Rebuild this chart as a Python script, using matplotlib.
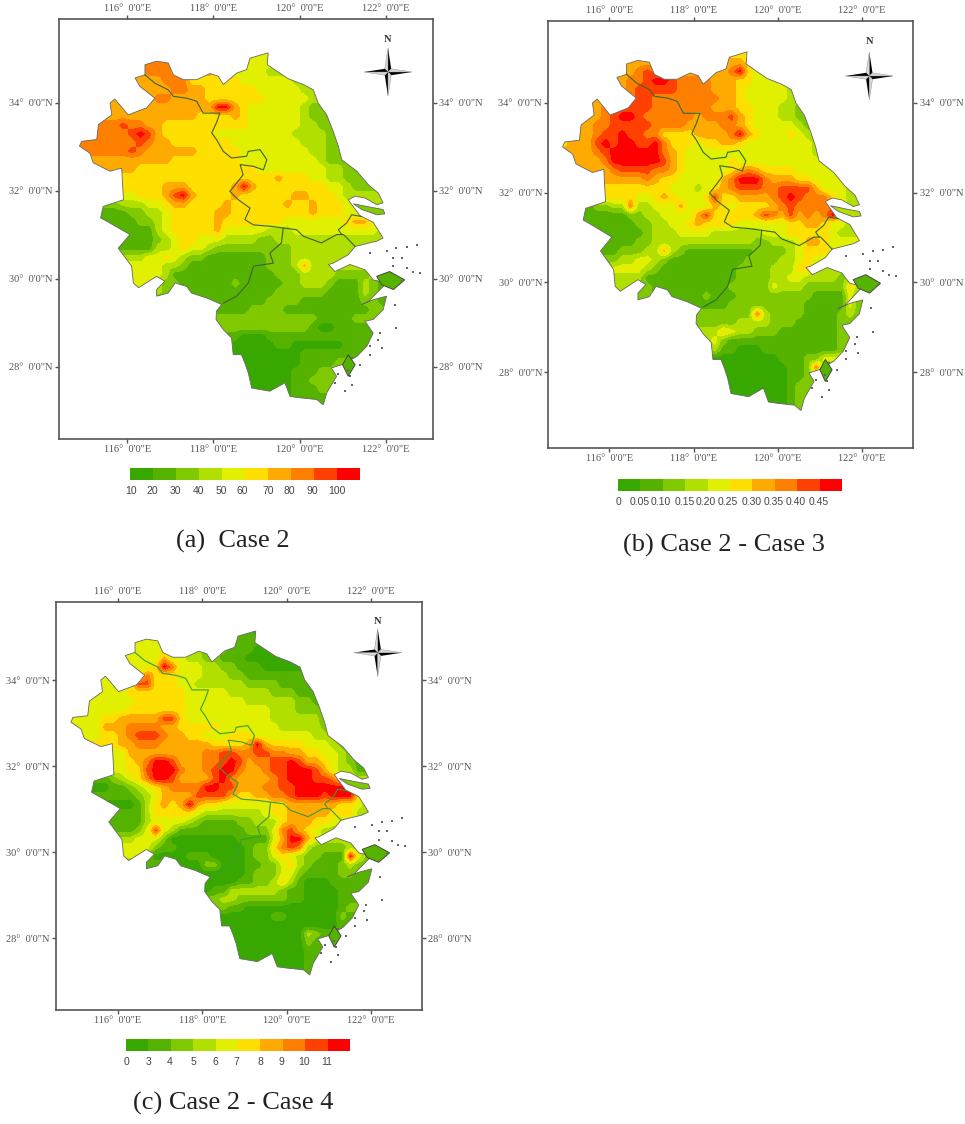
import numpy as np
import matplotlib
matplotlib.use("Agg")
import matplotlib.pyplot as plt
from matplotlib.colors import ListedColormap, BoundaryNorm
from matplotlib.patches import Polygon

W, H = 965, 1124

class_colors = ["#38a800", "#55b300", "#80c800", "#b0df00", "#e0f000",
                "#ffdf00", "#ffaa00", "#ff8000", "#ff4000", "#ff0000"]

lon_ticks = [116, 118, 120, 122]
lat_ticks = [28, 30, 32, 34]

# region outline, lon/lat
outline_lon = [118.85, 119.27, 119.25, 119.48, 119.74, 120.09, 120.32, 120.43, 120.63, 120.78,
               120.90, 120.98, 121.33, 121.60, 121.83, 121.94, 121.79, 121.52, 121.29, 121.13,
               121.40, 121.71, 121.94, 121.79, 121.29, 121.13, 120.78, 120.67, 120.82, 121.17,
               121.52, 121.71, 122.02, 121.79, 121.60, 121.44, 121.71, 122.02, 121.94, 121.71,
               121.52, 121.71, 121.56, 121.33, 120.98, 120.74, 120.86, 120.63, 120.55, 120.40,
               120.01, 119.78, 119.66, 119.31, 118.89, 118.81, 118.73, 118.65, 118.46, 118.42,
               118.23, 118.06, 118.07, 118.19, 117.84, 117.49, 117.38, 117.11, 116.95, 116.68,
               116.68, 116.87, 116.68, 116.26, 116.14, 116.10, 115.79, 116.06, 115.60, 115.38,
               115.44, 115.91, 115.87, 115.60, 115.21, 115.13, 114.89, 114.94, 115.29, 115.33,
               115.64, 115.60, 115.71, 116.02, 116.45, 116.64, 116.29, 116.18, 116.41, 116.41,
               116.68, 116.95, 117.07, 117.30, 117.61, 117.92, 118.11, 118.23, 118.54, 118.77]
outline_lat = [35.02, 35.14, 34.87, 34.72, 34.55, 34.42, 34.30, 34.00, 33.73, 33.36,
               33.02, 32.71, 32.45, 32.14, 31.95, 31.73, 31.69, 31.84, 31.88, 31.80,
               31.44, 31.29, 30.93, 30.86, 30.74, 30.55, 30.36, 30.33, 30.17, 30.33,
               30.21, 29.98, 29.91, 29.68, 29.49, 29.42, 29.53, 29.61, 29.30, 29.08,
               29.04, 28.77, 28.47, 28.24, 28.05, 27.98, 27.79, 27.41, 27.14, 27.26,
               27.30, 27.33, 27.64, 27.45, 27.52, 27.86, 28.09, 28.28, 28.28, 28.66,
               28.85, 29.08, 29.27, 29.42, 29.57, 29.68, 29.83, 29.91, 29.68, 29.61,
               29.76, 29.95, 30.06, 29.80, 29.91, 30.29, 30.70, 31.01, 31.27, 31.39,
               31.65, 31.80, 32.52, 32.45, 32.64, 32.86, 33.02, 33.13, 33.17, 33.51,
               33.73, 34.00, 34.09, 33.73, 33.89, 34.11, 34.38, 34.57, 34.64, 34.87,
               34.95, 34.91, 34.64, 34.53, 34.53, 34.67, 34.61, 34.42, 34.68, 34.76]

# province borders
border_anhui_lon = [116.41, 116.64, 116.95, 117.07, 117.38, 117.61, 117.76, 118.15, 118.07, 117.96,
                    118.07, 118.23, 118.42, 118.77, 118.81, 119.08, 119.24, 119.16, 118.93, 118.62,
                    118.69, 118.54, 118.38, 118.58, 118.85, 118.73, 118.93, 119.31, 119.62, 119.58,
                    119.31, 119.39, 118.93, 118.81, 118.54, 118.23]
border_anhui_lat = [34.64, 34.45, 34.30, 34.15, 34.11, 34.04, 33.77, 33.77, 33.55, 33.32,
                    33.17, 32.90, 32.75, 32.79, 32.90, 32.94, 32.71, 32.48, 32.56, 32.60,
                    32.37, 32.18, 31.99, 31.80, 31.61, 31.35, 31.23, 31.20, 31.16, 30.82,
                    30.59, 30.36, 30.29, 29.91, 29.61, 29.45]
border_zj_lon = [119.62, 119.93, 120.09, 120.51, 120.86, 121.02, 121.29]
border_zj_lat = [31.16, 31.12, 30.97, 30.82, 31.01, 31.01, 30.74]
border_sh_lon = [120.98, 120.90, 121.09, 121.21, 121.44]
border_sh_lat = [31.01, 31.12, 31.27, 31.46, 31.42]

# islands
chongming_lon = [121.25, 121.60, 121.94, 121.98, 121.79, 121.44]
chongming_lat = [31.71, 31.64, 31.58, 31.48, 31.46, 31.58]
zhoushan_lon = [121.79, 122.09, 122.44, 122.18, 121.91]
zhoushan_lat = [30.06, 30.17, 29.98, 29.76, 29.87]
taizhou_lon = [121.13, 121.29, 121.13, 121.00]
taizhou_lat = [28.28, 28.05, 27.79, 28.05]
islet_lon = [121.63, 122.02, 122.25, 122.49, 122.73, 122.18, 122.37, 122.49, 122.18, 122.64, 122.80, 122.37,
             122.22, 122.25, 121.87, 121.83, 121.91, 121.63, 121.63, 121.40, 121.21, 121.13, 121.17,
             120.90, 121.05, 121.21, 120.82]
islet_lat = [30.59, 30.63, 30.70, 30.73, 30.78, 30.48, 30.48, 30.25, 30.29, 30.17, 30.14, 29.95,
             29.42, 28.89, 28.77, 28.62, 28.43, 28.47, 28.28, 28.05, 28.20, 27.94, 27.79,
             27.83, 27.45, 27.60, 27.64]

# class per 0.2 degree cell, north to south, cell centres start at lon 114.9, lat 35.1
# short rows carry on with their last class, spaces are only for reading
grid_lat_top = 35.1
grid_lon_left = 114.9
grid_step = 0.2
n_cols, n_rows = 37, 41

grid_a = [
    "66666666666666 555 4444444 333 2",
    "66666666 777 666 555 4444444 33 2",
    "66666666 777 6 55 66 55 4444 333 2",
    "6666666666 777 555555 444444 333 222",
    "66666666666 77 66 555555 44444 33 22",
    "666666666 77 6666 5555555 44444 33 2211",
    "6666666666666666 99 6 5 444444 3 22 1",
    "66666666666666 5555 6 5 444444 3 22 1",
    "77777877 66 5555555555 444444 33 22 1",
    "777777 898 6 555555 444444444 3333 2",
    "7777777 8 7 66 5555555 44444444 333 22",
    "777777 8 7 666666 55555 44444444 33 22",
    "66666666666 55555555 444444444 3 222",
    "6666666 55555555555555 44444444 33 2",
    "55555555555555555555555 6 555 44 33 2222",
    "5555555555 666 55555 696 55555555 44 3 2222",
    "4444444 555 6 8 9 6 5555 6 555555 66 555 4 3333",
    "22222 33 3 44 5 66 5555 6 555555 6 55 6 555 4 33",
    "111111 22 33 4 55555 66 55 5555555 6 555 44 33",
    "1111111 22 3 4 55555 6 5 555555 4444444 5 66 43",
    "111111111 3 4 55555 6 44444 333 4444444444 33",
    "111111111 2 3 4 55 444 3333 22 33333333333333",
    "111111111 33 4 5 44 3 222222222 333333333333",
    "33333333 44 5 4 3 22 1111111 222 3333333333",
    "4444444444 33 2 111111111 222 3 6 3333",
    "4444444444 3 111111111111 222 3333 2222 3 1",
    "444444444 3 22 111111 2 11111 22 333 2 111 3 2 1",
    "3333333333 2 111111111111 222222 1111 3 2 1",
    "1111111111111111111111 2222 1111111 22 1",
    "11111111111111111111 2222 1111111111 22 1",
    "2222222222222222222222222222 1111 222 1",
    "222222222222222222222222222 1 00 1111 2 1",
    "1111111111111111111 000 1111111111111",
    "111111111111111111 00000 11 000000 1111",
    "00000000000000000000000000 1111111111",
    "00000000000000000000000000 1111 2",
    "0000000000000000000000000 111 2",
    "0000000000000000000000000 11 2",
    "0000000000000000000000000 111 2",
    "0000000000000000000000000 11",
    "0000000000000000000000000 11",
]

grid_b = [
    "66666666666666666666 55 44 33",
    "6666666666666666666666 5 4 3",
    "666666666 7 8 77 66 66666 7 9 5 4 44 3",
    "66666666 77 8 99 8 7777 666 55 4444444 3",
    "66666666 7 88888 7777 666 5 44444 3",
    "66666666 7 88 77777777 66 5 44444 33 2",
    "66666 77 8888 7777777 666 55 444 33 22",
    "66666 7 8 99 8 777777 6 777 8 6 5 444 33 22",
    "6666 77 88888 7777 6666 77 6 5 44444 3 2",
    "666 6 7 88 9 88 77 555 5 6 666 7 9 6 5 444 5 4 3",
    "5 666 8 9 8 99 88 9 7 555 4 55 66 5 44444444 3",
    "6666 7 89 99999 7 6 5 444444444444444 33",
    "66666 7 999999 8 6 5 44444 5 44444444 444 3",
    "666666 7 8888 77 6 5 44444 5 6 7 6 5555 44444 3",
    "66666666 667 6 55 44444 6 7 999 7 666 55 4444 3",
    "5555555555555 444 3 45 6 7 888 77 8888 6 444 3",
    "555555555 44 5 6 5 444 5 8 55 6666 7 8 9 8 777 5 4 3",
    "1111 22 33 7 33 444 6 444 6 5 455 55 6 7 8 77777 5 3",
    "11111111 22 33 4444 6 8 55 555 6 8 7 6 8 6 7 6 7 9 5 4",
    "111111111 22 33 44 5 6 5 555 444444 55 66 5 44 33",
    "1111111111 2 33 34 44 4 33 3333 444 55 555 4 333",
    "111111111 22 33333333333 3 22 333 4 66 5 4",
    "1111111 222 33 6 3 2 11111111 2222 3 4 555 4",
    "2222222 33 44 3 2 111111111 2222 33 4 5 4",
    "333333 4444 3 2 111111111 2222 333 55 333",
    "3333333333 11111111111 2222 33 44 3333 2 3 5",
    "333333333 22 111111111 22222 4 333 22222 5 3",
    "22222222222 111111 2 111 222222222 1111 4 2",
    "11111111111111111111 222222222 11111 4 2",
    "22222222222222222222222 7 3 2222 1111 2 3 2",
    "222222222222222222222 3333 222 11111 22",
    "3333333333333333333 5 4 33 222 1111111 2",
    "333333333333333333 4 2 1111111111111 2",
    "3333333333333333333 11 000 111111111 2",
    "00000000000000000000000000 111 22 4",
    "000000000000000000000000000 11 2 7 2",
    "000000000000000000000000000 11 2",
    "000000000000000000000000000 1 2",
    "000000000000000000000000000 1 2",
    "000000000000000000000000000 1 2",
    "000000000000000000000000000 1 2",
]

grid_c = [
    "4444444444444444 111111 0",
    "4444444444444444 2222 111 0",
    "44444444444444 33 222 111 0",
    "44444444444 6 44 33 22 111 0",
    "4444444444 5 9 7 444 33 22 111 0",
    "444444444 7 555 444 333 22 1111 111 0",
    "44444444 88 555 44 333333 2222 1111 0",
    "4444444 5555555 44444 33333 222 1111",
    "44444444 555555 4444444 33333 3 22 1",
    "4444444 5555555 4444444444 333 222 1",
    "4444 55 6666 6 88 5 4444444444 3333 33 1",
    "4444 666 7 777 66 55 555 4444444 3333 3 2",
    "4444 55 6 7 888 7 66 55 444 555 444 4444 33 2",
    "555555 66 777 666666 5555 6 9 6 5555 444 3 2 1",
    "4444444 66 66 6666 6 77 88 77 88 77 66 55 44 3 2 1",
    "4444444 5 6 7 99 8 6 66 77 8 9 8 6 77 88 9 8 66 5 4 3 2 1",
    "4444444 55 8 999 7 66 7 8 99 7 66 7 88 999 8 6 4 33 1",
    "1111 1 2 3 4 5 7 99 8 66 66 8 9 7 6666 7 8 999 88 7 5 4 3",
    "00000 11 2 3 4 5 6 7777 99 88 666 77 88 999 9999 6 3",
    "111111 11 2 3 4 6 6 66 88 88 6 55 66 77 8 999 8 999 5 3",
    "00000000 1 3 5 6 5 6 9 6 55 444 444 55 666 666 55 4 3",
    "11111111 1 3 5 5555 4 33 33333 4 55 666 66 555 33",
    "1111111 11 3 4 444 3 2 1111 22 333 5 666 55 444",
    "11111111 2 4 8 4 3 11111111 222 4 7 8 6 5 4 3",
    "33333333 444 2 00000000 1111 4 6 99 6 4 3",
    "4444444444 2 11 00000000 1 22 5 7 8 7 3 2222 33",
    "444444444 2 0000 1 11 0000 1 22 4 5 4 3 22 111 9 4 2",
    "1111111111111 000 22 000 11 22 4 5 3 2 111 2 3 2",
    "000000000000000000000 1 222 44 2 1111 22 1",
    "00000000000000000000 11 22 3 5 3 1 000 111",
    "00000000000000000 11 333333 2 11 0000 11",
    "222222222222222222 33 222222 11 0000 11",
    "2222222222222222222 11 00000000000 1 2",
    "000000000000000000000000 11 000000 2 1",
    "00000000000000000000000000000000 1",
    "0000000000000000000000000000 3 2 1",
    "0000000000000000000000000000 2 1",
    "0000000000000000000000000000 1",
    "0000000000000000000000000000 1",
    "0000000000000000000000000000 1",
    "0000000000000000000000000000 1",
]

labels_a = ["10", "20", "30", "40", "50", "60", "70", "80", "90", "100"]
labels_b = ["0", "0.05", "0.10", "0.15", "0.20", "0.25", "0.30", "0.35", "0.40", "0.45"]
labels_c = ["0", "3", "4", "5", "6", "7", "8", "9", "10", "11"]
label_pos_a = [0.03, 0.98, 1.96, 2.99, 3.96, 4.88, 6.0, 6.93, 7.94, 8.99]
label_pos_b = [0.0, 0.95, 1.92, 3.0, 3.94, 4.89, 5.98, 6.94, 7.96, 8.96]
label_pos_c = [0.04, 1.0, 1.96, 3.0, 3.97, 4.94, 6.0, 6.95, 7.96, 8.96]

cmap = ListedColormap(class_colors)
norm = BoundaryNorm(np.arange(-0.5, 10.5), cmap.N)
TICK_GREY = "#555555"
COAST = "#666666"


def parse_grid(rows):
    out = []
    for r in rows:
        r = r.replace(" ", "")
        r = r.ljust(n_cols, r[-1])[:n_cols]
        out.append([int(c) for c in r])
    return np.array(out, dtype=float)


def px_axes(fig, x0, y0, x1, y1):
    return fig.add_axes([x0 / W, 1 - y1 / H, (x1 - x0) / W, (y1 - y0) / H])


def draw_map(fig, grid_rows, frame, lon_px, lat_px, border_color, chongming_class):
    ax = px_axes(fig, *frame)
    # px to degrees from the 116/122 and 34/28 ticks
    kx = (lon_px[1] - lon_px[0]) / 6.0
    ky = (lat_px[1] - lat_px[0]) / 6.0
    ax.set_xlim(116 + (frame[0] - lon_px[0]) / kx, 116 + (frame[2] - lon_px[0]) / kx)
    ax.set_ylim(34 + (frame[3] - lat_px[0]) / -ky, 34 + (frame[1] - lat_px[0]) / -ky)

    grid = parse_grid(grid_rows)
    extent = (grid_lon_left - grid_step / 2, grid_lon_left + grid_step * (n_cols - 0.5),
              grid_lat_top - grid_step * (n_rows - 0.5), grid_lat_top + grid_step / 2)
    im = ax.imshow(grid, cmap=cmap, norm=norm, extent=extent, origin="upper",
                   interpolation="bilinear", aspect="auto", zorder=1)

    # clip the field to the region
    clip = Polygon(list(zip(outline_lon, outline_lat)), closed=True, transform=ax.transData,
                   facecolor="none", edgecolor=COAST, linewidth=0.6, zorder=3)
    ax.add_patch(clip)
    im.set_clip_path(clip)

    ax.plot(border_anhui_lon, border_anhui_lat, color=border_color, lw=0.8, zorder=4)
    ax.plot(border_zj_lon, border_zj_lat, color=border_color, lw=0.8, zorder=4)
    ax.plot(border_sh_lon, border_sh_lat, color=border_color, lw=0.8, zorder=4)

    ax.add_patch(Polygon(list(zip(chongming_lon, chongming_lat)), closed=True,
                         facecolor=class_colors[chongming_class], edgecolor=COAST,
                         linewidth=0.6, zorder=3))
    for lons, lats in [(zhoushan_lon, zhoushan_lat), (taizhou_lon, taizhou_lat)]:
        ax.add_patch(Polygon(list(zip(lons, lats)), closed=True, facecolor=class_colors[1],
                             edgecolor="#444444", linewidth=0.7, zorder=3))
    ax.scatter(islet_lon, islet_lat, s=2, marker="s", color="#666666", linewidths=0, zorder=3)

    ax.set_xticks(lon_ticks)
    ax.set_xticklabels([f"{v}\u00b0  0'0\"E" for v in lon_ticks])
    ax.set_yticks(lat_ticks)
    ax.set_yticklabels([f"{v}\u00b0  0'0\"N" for v in lat_ticks])
    ax.tick_params(axis="both", length=3, width=1, color=TICK_GREY, labelcolor=TICK_GREY,
                   labelsize=7.5, pad=1.5, top=True, right=True, labeltop=True, labelright=True)
    for lab in ax.get_xticklabels() + ax.get_yticklabels():
        lab.set_family("Liberation Serif")
    for spine in ax.spines.values():
        spine.set_color(TICK_GREY)
        spine.set_linewidth(1.2)
    return ax


def draw_colorbar(fig, box, labels, positions):
    cax = px_axes(fig, *box)
    cax.imshow(np.arange(10)[None, :], cmap=cmap, norm=norm, extent=(0, 10, 0, 1), aspect="auto")
    cax.set_yticks([])
    cax.set_xticks(positions)
    cax.set_xticklabels(labels, family="Liberation Sans", color="#444444", fontsize=7.5)
    cax.tick_params(axis="x", length=0, pad=4.5)
    for spine in cax.spines.values():
        spine.set_visible(False)


def draw_compass(ov, cx, cy, ny):
    r, w = 24, 3.2
    ov.text(cx, ny, "N", ha="center", va="center", fontsize=7.5, color="#333333",
            family="Liberation Serif", fontweight="bold")
    # each arm: dark half plus a light half
    for dx, dy in [(0, -1), (1, 0), (0, 1), (-1, 0)]:
        tip = (cx + dx * r, cy + dy * r)
        left = (cx - dy * w + dx * w, cy + dx * w + dy * w)
        right = (cx + dy * w + dx * w, cy - dx * w + dy * w)
        ov.add_patch(Polygon([(cx, cy), left, tip], closed=True, facecolor="black",
                             edgecolor="none"))
        ov.add_patch(Polygon([(cx, cy), right, tip], closed=True, facecolor="#d8d8d8",
                             edgecolor="#888888", linewidth=0.3))


fig = plt.figure(figsize=(W / 100, H / 100), dpi=100)
fig.patch.set_facecolor("white")

draw_map(fig, grid_a, (59, 19, 433, 439), (127.3, 385.7), (103, 367), "#3f5f3f", 2)
draw_map(fig, grid_b, (548.3, 21, 913.3, 448), (609.3, 862), (103, 372), "#2f6b2f", 3)
draw_map(fig, grid_c, (56, 602.3, 421.7, 1010), (117.7, 371), (680, 938), "#3a9a3a", 2)

draw_colorbar(fig, (130, 468, 360, 480), labels_a, label_pos_a)
draw_colorbar(fig, (618, 479, 841.7, 490.7), labels_b, label_pos_b)
draw_colorbar(fig, (126, 1039, 350, 1050.7), labels_c, label_pos_c)

# overlay in image pixels for the compass roses and captions
ov = fig.add_axes([0, 0, 1, 1], facecolor="none")
ov.set_xlim(0, W)
ov.set_ylim(H, 0)
ov.axis("off")

draw_compass(ov, 388, 72, 40)
draw_compass(ov, 869.3, 76, 42)
draw_compass(ov, 377.7, 652.7, 622)

caption_font = dict(family="Liberation Serif", fontsize=19, color="#222222", ha="center", va="center")
ov.text(232.5, 541, "(a)  Case 2", **caption_font)
ov.text(724, 545, "(b) Case 2 - Case 3", **caption_font)
ov.text(233, 1103, "(c) Case 2 - Case 4", **caption_font)

fig.savefig("out.png", dpi=100)
